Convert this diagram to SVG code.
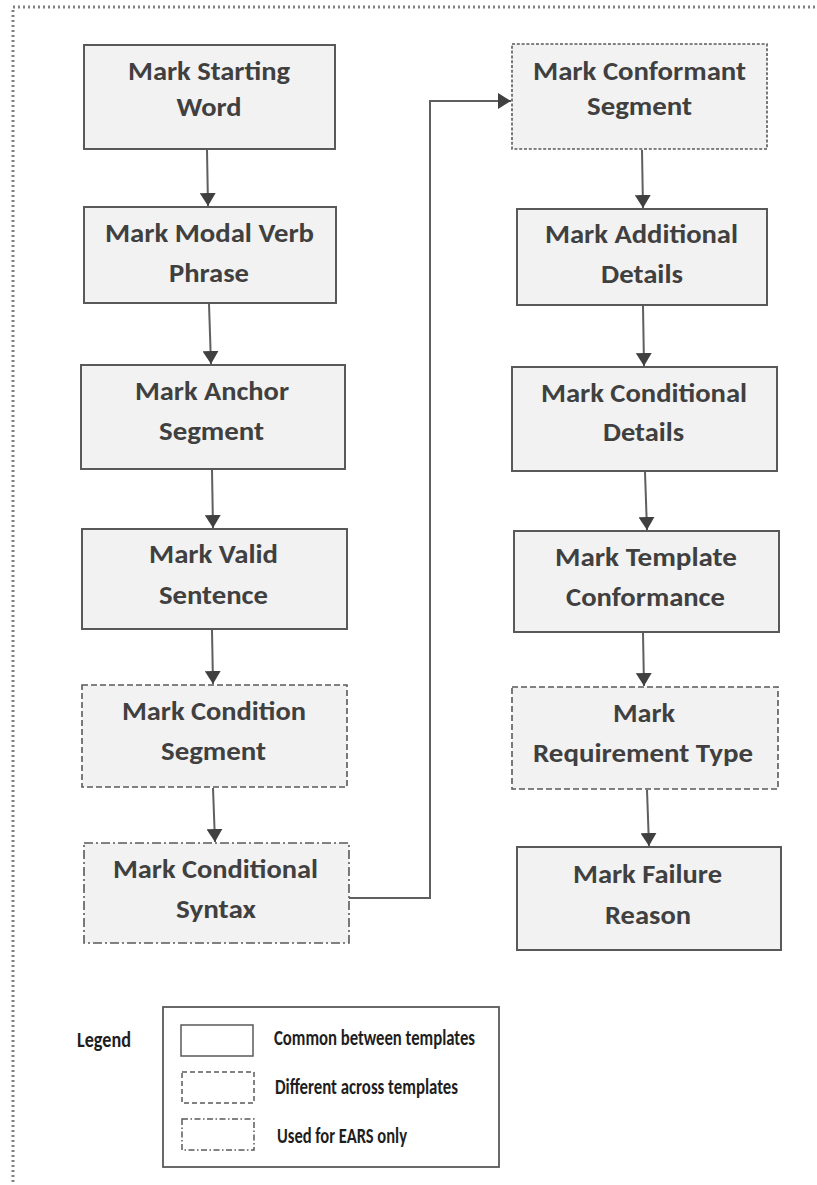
<svg xmlns="http://www.w3.org/2000/svg" width="817" height="1185" viewBox="0 0 817 1185">
  <style>
    .box { fill: #f2f2f2; stroke: #595959; stroke-width: 2; }
    .dash { stroke-dasharray: 6 3; stroke-width: 1.6; }
    .fine { stroke-dasharray: 3 1.8; stroke-width: 1.6; }
    .dashdot { stroke-dasharray: 9 3 2 3; stroke-width: 1.6; }
    .lbl { font-family: Carlito, Lato, "Liberation Sans", sans-serif; font-weight: bold; font-size: 27px; fill: #404040; text-anchor: middle; }
    .leg { font-family: Carlito, Lato, "Liberation Sans", sans-serif; font-weight: bold; font-size: 23px; fill: #1e1e1e; }
    .conn { fill: none; stroke: #5f5f5f; stroke-width: 2; marker-end: url(#arrow); }
    .swatch { fill: #ffffff; stroke: #595959; stroke-width: 1.5; }
  </style>
  <defs>
    <marker id="arrow" markerUnits="userSpaceOnUse" viewBox="0 0 13 16" refX="13" refY="8" markerWidth="13" markerHeight="16" orient="auto">
      <path d="M0,0 L13,8 L0,16 z" fill="#404040"/>
    </marker>
  </defs>

  <rect width="817" height="1185" fill="#ffffff"/>
  <!-- dotted frame around the whole flow -->
  <rect x="13" y="7" width="900" height="1300" fill="none" stroke="#808080" stroke-width="3" stroke-dasharray="2 3"/>

  <!-- left column -->
  <g id="mark-starting-word">
    <rect class="box" x="84" y="45" width="251" height="104"/>
    <text class="lbl" x="209" y="80" textLength="162" lengthAdjust="spacingAndGlyphs">Mark Starting</text>
    <text class="lbl" x="209" y="116" textLength="65" lengthAdjust="spacingAndGlyphs">Word</text>
  </g>
  <g id="mark-modal-verb-phrase">
    <rect class="box" x="84" y="207" width="252" height="96"/>
    <text class="lbl" x="209.5" y="242" textLength="209" lengthAdjust="spacingAndGlyphs">Mark Modal Verb</text>
    <text class="lbl" x="209" y="282" textLength="80" lengthAdjust="spacingAndGlyphs">Phrase</text>
  </g>
  <g id="mark-anchor-segment">
    <rect class="box" x="81" y="365" width="264" height="104"/>
    <text class="lbl" x="212" y="400" textLength="154" lengthAdjust="spacingAndGlyphs">Mark Anchor</text>
    <text class="lbl" x="211.5" y="440" textLength="105" lengthAdjust="spacingAndGlyphs">Segment</text>
  </g>
  <g id="mark-valid-sentence">
    <rect class="box" x="82" y="529" width="265" height="100"/>
    <text class="lbl" x="213.5" y="563" textLength="129" lengthAdjust="spacingAndGlyphs">Mark Valid</text>
    <text class="lbl" x="213.5" y="604" textLength="109" lengthAdjust="spacingAndGlyphs">Sentence</text>
  </g>
  <g id="mark-condition-segment">
    <rect class="box dash" x="82" y="685" width="265" height="102"/>
    <text class="lbl" x="214" y="720" textLength="184" lengthAdjust="spacingAndGlyphs">Mark Condition</text>
    <text class="lbl" x="213.5" y="760" textLength="105" lengthAdjust="spacingAndGlyphs">Segment</text>
  </g>
  <g id="mark-conditional-syntax">
    <rect class="box dashdot" x="84" y="843" width="265" height="100"/>
    <text class="lbl" x="215.5" y="878" textLength="205" lengthAdjust="spacingAndGlyphs">Mark Conditional</text>
    <text class="lbl" x="216" y="918" textLength="80" lengthAdjust="spacingAndGlyphs">Syntax</text>
  </g>

  <!-- right column -->
  <g id="mark-conformant-segment">
    <rect class="box fine" x="512" y="44" width="255" height="105"/>
    <text class="lbl" x="639.5" y="80" textLength="213" lengthAdjust="spacingAndGlyphs">Mark Conformant</text>
    <text class="lbl" x="639.5" y="115" textLength="105" lengthAdjust="spacingAndGlyphs">Segment</text>
  </g>
  <g id="mark-additional-details">
    <rect class="box" x="517" y="209" width="250" height="96"/>
    <text class="lbl" x="641.5" y="243" textLength="193" lengthAdjust="spacingAndGlyphs">Mark Additional</text>
    <text class="lbl" x="642" y="283" textLength="82" lengthAdjust="spacingAndGlyphs">Details</text>
  </g>
  <g id="mark-conditional-details">
    <rect class="box" x="512" y="367" width="265" height="104"/>
    <text class="lbl" x="644" y="402" textLength="206" lengthAdjust="spacingAndGlyphs">Mark Conditional</text>
    <text class="lbl" x="643.5" y="441" textLength="81" lengthAdjust="spacingAndGlyphs">Details</text>
  </g>
  <g id="mark-template-conformance">
    <rect class="box" x="514" y="531" width="265" height="101"/>
    <text class="lbl" x="646" y="566" textLength="182" lengthAdjust="spacingAndGlyphs">Mark Template</text>
    <text class="lbl" x="645.5" y="606" textLength="159" lengthAdjust="spacingAndGlyphs">Conformance</text>
  </g>
  <g id="mark-requirement-type">
    <rect class="box dash" x="512" y="687" width="266" height="102"/>
    <text class="lbl" x="644" y="722" textLength="62" lengthAdjust="spacingAndGlyphs">Mark</text>
    <text class="lbl" x="643" y="762" textLength="220" lengthAdjust="spacingAndGlyphs">Requirement Type</text>
  </g>
  <g id="mark-failure-reason">
    <rect class="box" x="517" y="847" width="264" height="103"/>
    <text class="lbl" x="647.5" y="883" textLength="149" lengthAdjust="spacingAndGlyphs">Mark Failure</text>
    <text class="lbl" x="648" y="924" textLength="86" lengthAdjust="spacingAndGlyphs">Reason</text>
  </g>

  <!-- connectors -->
  <g id="connectors">
    <line class="conn" x1="207" y1="150" x2="208" y2="206"/>
    <line class="conn" x1="209" y1="304" x2="211" y2="364"/>
    <line class="conn" x1="212" y1="470" x2="213" y2="528"/>
    <line class="conn" x1="212" y1="630" x2="213" y2="684"/>
    <line class="conn" x1="213" y1="788" x2="215" y2="842"/>
    <polyline class="conn" points="349,898 430,898 430,101 511,101"/>
    <line class="conn" x1="642" y1="150" x2="643" y2="208"/>
    <line class="conn" x1="643" y1="306" x2="644" y2="366"/>
    <line class="conn" x1="645" y1="472" x2="647" y2="530"/>
    <line class="conn" x1="643" y1="633" x2="644" y2="686"/>
    <line class="conn" x1="647" y1="790" x2="649" y2="846"/>
  </g>

  <!-- legend -->
  <g id="legend">
    <text class="leg" x="77" y="1047" font-size="24" textLength="54" lengthAdjust="spacingAndGlyphs">Legend</text>
    <rect x="163" y="1007" width="336" height="160" fill="#ffffff" stroke="#595959" stroke-width="1.8"/>
    <rect class="swatch" x="181" y="1025" width="72" height="31"/>
    <rect class="swatch" x="182" y="1072" width="72" height="31" stroke-dasharray="5 3" stroke-width="1.2"/>
    <rect class="swatch" x="182" y="1119" width="72" height="31" stroke-dasharray="6 2.5 1.5 2.5" stroke-width="1.2"/>
    <text class="leg" x="274" y="1045" textLength="201" lengthAdjust="spacingAndGlyphs">Common between templates</text>
    <text class="leg" x="275" y="1094" textLength="183" lengthAdjust="spacingAndGlyphs">Different across templates</text>
    <text class="leg" x="277" y="1143" textLength="130" lengthAdjust="spacingAndGlyphs">Used for EARS only</text>
  </g>
</svg>
